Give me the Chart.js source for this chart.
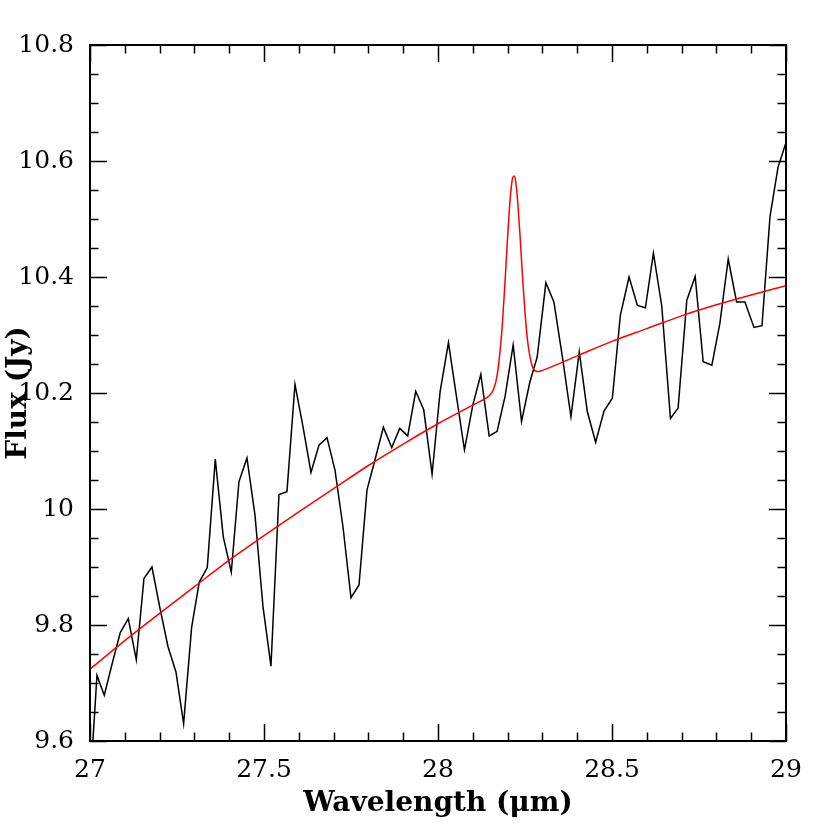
<!DOCTYPE html>
<html><head><meta charset="utf-8">
<script src="https://cdn.jsdelivr.net/npm/chart.js@4.4.1/dist/chart.umd.min.js"></script>
<style>html,body{margin:0;padding:0;background:#fff}</style>
</head><body>
<canvas id="c" width="830" height="830"></canvas>
<script>
// Observed spectrum
const wavelength = [26.998, 27.020, 27.041, 27.064, 27.087, 27.110, 27.133, 27.155, 27.178, 27.201,
  27.224, 27.247, 27.269, 27.292, 27.314, 27.337, 27.360, 27.383, 27.406, 27.428,
  27.451, 27.474, 27.497, 27.520, 27.543, 27.566, 27.589, 27.612, 27.635, 27.658,
  27.681, 27.704, 27.727, 27.750, 27.773, 27.796, 27.819, 27.843, 27.867, 27.890,
  27.913, 27.936, 27.959, 27.983, 28.006, 28.030, 28.053, 28.076, 28.100, 28.123,
  28.147, 28.170, 28.193, 28.216, 28.240, 28.264, 28.285, 28.310, 28.333, 28.358,
  28.382, 28.406, 28.429, 28.453, 28.477, 28.501, 28.524, 28.549, 28.573, 28.596,
  28.619, 28.643, 28.668, 28.690, 28.715, 28.739, 28.762, 28.787, 28.810, 28.834,
  28.858, 28.882, 28.908, 28.931, 28.954, 28.977, 29.000];
const flux = [9.500, 9.713, 9.679, 9.734, 9.787, 9.811, 9.740, 9.880, 9.900, 9.829,
  9.763, 9.719, 9.630, 9.796, 9.874, 9.899, 10.086, 9.952, 9.891, 10.047,
  10.088, 9.990, 9.832, 9.729, 10.025, 10.030, 10.215, 10.142, 10.063, 10.110,
  10.123, 10.067, 9.969, 9.847, 9.869, 10.033, 10.085, 10.141, 10.106, 10.139,
  10.126, 10.203, 10.171, 10.060, 10.202, 10.287, 10.194, 10.102, 10.179, 10.232,
  10.126, 10.134, 10.195, 10.283, 10.151, 10.219, 10.262, 10.390, 10.357, 10.260,
  10.159, 10.271, 10.168, 10.115, 10.169, 10.191, 10.334, 10.400, 10.351, 10.347,
  10.441, 10.350, 10.156, 10.174, 10.360, 10.401, 10.254, 10.248, 10.320, 10.431,
  10.357, 10.357, 10.313, 10.316, 10.504, 10.589, 10.632];

// Model fit (continuum + line)
const modelWavelength = [27.00, 27.10, 27.20, 27.30, 27.40, 27.50, 27.60, 27.70, 27.80, 27.90,
  28.00, 28.10, 28.14, 28.15, 28.16, 28.17, 28.18, 28.185, 28.19, 28.195,
  28.20, 28.205, 28.21, 28.215, 28.22, 28.225, 28.23, 28.235, 28.24, 28.245,
  28.25, 28.255, 28.26, 28.27, 28.28, 28.29, 28.30, 28.40, 28.50, 28.60,
  28.70, 28.80, 28.90, 29.00];
const modelFlux = [9.724, 9.773, 9.820, 9.866, 9.912, 9.954, 9.995, 10.035, 10.075, 10.112,
  10.147, 10.179, 10.192, 10.197, 10.207, 10.231, 10.283, 10.320, 10.366, 10.417,
  10.469, 10.516, 10.552, 10.572, 10.574, 10.556, 10.522, 10.478, 10.429, 10.381,
  10.339, 10.304, 10.278, 10.248, 10.238, 10.237, 10.239, 10.264, 10.289, 10.311,
  10.333, 10.352, 10.369, 10.385];

const xTitle = 'Wavelength (\u03bcm)';
const yTitle = 'Flux (Jy)';
const xRange = [27, 29];
const yRange = [9.6, 10.8];
const xMajorStep = 0.5, xMinorStep = 0.1;
const yMajorStep = 0.2, yMinorStep = 0.05;

const fmt = v => String(parseFloat(Number(v).toFixed(3)));

const frameTicks = {
  id: 'frameTicks',
  afterDatasetsDraw(chart) {
    const {ctx, chartArea: a, scales: {x, y}} = chart;
    ctx.save();
    ctx.strokeStyle = '#000';
    ctx.lineWidth = 1.5;
    const line = (x1, y1, x2, y2) => { ctx.beginPath(); ctx.moveTo(x1, y1); ctx.lineTo(x2, y2); ctx.stroke(); };
    const isMajor = (v, lo, step) => Math.abs((v - lo) / step - Math.round((v - lo) / step)) < 1e-6;
    for (let i = 0; ; i++) {
      const v = xRange[0] + i * xMinorStep;
      if (v > xRange[1] + 1e-9) break;
      const px = Math.round(x.getPixelForValue(v)) + 0.5;
      const L = isMajor(v, xRange[0], xMajorStep) ? 17 : 8.5;
      line(px, a.bottom, px, a.bottom - L);
      line(px, a.top, px, a.top + L);
    }
    for (let i = 0; ; i++) {
      const v = yRange[0] + i * yMinorStep;
      if (v > yRange[1] + 1e-9) break;
      const py = Math.round(y.getPixelForValue(v)) + 0.5;
      const L = isMajor(v, yRange[0], yMajorStep) ? 17 : 8.5;
      line(a.left, py, a.left + L, py);
      line(a.right, py, a.right - L, py);
    }
    ctx.lineWidth = 2;
    ctx.strokeRect(a.left, a.top, a.right - a.left, a.bottom - a.top);
    ctx.restore();
  }
};

new Chart(document.getElementById('c'), {
  type: 'line',
  data: {
    datasets: [
      {
        label: 'model',
        data: modelWavelength.map((w, i) => ({x: w, y: modelFlux[i]})),
        borderColor: '#ff0000',
        borderWidth: 1.5,
        pointRadius: 0,
        cubicInterpolationMode: 'monotone',
        fill: false
      },
      {
        label: 'data',
        data: wavelength.map((w, i) => ({x: w, y: flux[i]})),
        borderColor: '#000000',
        borderWidth: 1.5,
        pointRadius: 0,
        tension: 0,
        fill: false
      }
    ]
  },
  options: {
    responsive: false,
    animation: false,
    events: [],
    layout: {padding: {top: 45, right: 44, left: 0, bottom: 0}},
    plugins: {legend: {display: false}, tooltip: {enabled: false}},
    scales: {
      x: {
        type: 'linear',
        min: xRange[0], max: xRange[1],
        grid: {display: false},
        border: {display: false},
        ticks: {stepSize: xMajorStep, color: '#000', padding: 6,
          font: {family: 'DejaVu Serif', size: 25}, callback: fmt, maxRotation: 0},
        title: {display: true, text: xTitle, color: '#000',
          font: {family: 'DejaVu Serif', size: 28, weight: 'bold'}, padding: {top: 0, bottom: 9}},
        afterFit(scale) { scale.height = 89; }
      },
      y: {
        type: 'linear',
        min: yRange[0], max: yRange[1],
        grid: {display: false},
        border: {display: false},
        ticks: {stepSize: yMajorStep, color: '#000', padding: 8,
          font: {family: 'DejaVu Serif', size: 25}, callback: fmt},
        title: {display: true, text: yTitle, color: '#000',
          font: {family: 'DejaVu Serif', size: 28, weight: 'bold'}, padding: {top: 2, bottom: 0}},
        afterFit(scale) { scale.width = 90; }
      }
    }
  },
  plugins: [frameTicks]
});
</script>
</body></html>
